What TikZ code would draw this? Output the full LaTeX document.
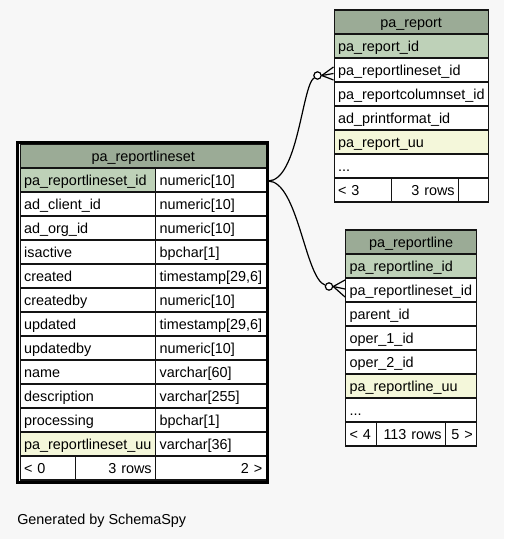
\documentclass[tikz,border=0pt]{standalone}
\usepackage{fontspec}
\setmainfont{Liberation Sans}
\definecolor{bgc}{HTML}{F7F7F7}
\definecolor{headc}{HTML}{9BAB96}
\definecolor{pkc}{HTML}{BED1B8}
\definecolor{uuc}{HTML}{F4F7DA}
\definecolor{linec}{HTML}{141414}
\newcommand\dbcell[7]{%
  \pgfmathsetmacro\dbcellw{(#3-#2)*0.75-6}%
  \node[cell, fill=#5, align=#6, text width=\dbcellw pt] (#1) at (#2,#4) {#7};%
}
\begin{document}
\begin{tikzpicture}[x=0.75pt, y=-0.75pt,
  cell/.style={draw=linec, line width=1pt, rectangle, inner xsep=3pt, inner ysep=0pt,
    minimum height=18pt, text height=7.7pt, text depth=0pt, anchor=west,
    font=\fontsize{10.8}{12}\selectfont},
  rel/.style={draw=black, line width=0.9pt},
  endc/.style={circle, draw=black, fill=white, line width=0.9pt, inner sep=0pt, minimum size=5.5pt}]
\fill[bgc] (0,0) rectangle (504,539);
\useasboundingbox (0,0) rectangle (504,539);

% ---------- pa_report ----------
\dbcell{rt}{333.5}{487.5}{22}{headc}{center}{pa\_report}
\dbcell{rp1}{333.5}{487.5}{46}{pkc}{left}{pa\_report\_id}
\dbcell{rp2}{333.5}{487.5}{70}{white}{left}{pa\_reportlineset\_id}
\dbcell{rp3}{333.5}{487.5}{94}{white}{left}{pa\_reportcolumnset\_id}
\dbcell{rp4}{333.5}{487.5}{118}{white}{left}{ad\_printformat\_id}
\dbcell{rp5}{333.5}{487.5}{142}{uuc}{left}{pa\_report\_uu}
\dbcell{rp6}{333.5}{487.5}{166}{white}{left}{...}
\dbcell{rf1}{333.5}{391}{190}{white}{left}{< 3}
\dbcell{rf2}{391}{458}{190}{white}{right}{3 rows\hspace*{1.5pt}}
\dbcell{rf3}{458}{487.5}{190}{white}{left}{}

% ---------- pa_reportline ----------
\dbcell{lt}{345}{476}{242}{headc}{center}{pa\_reportline}
\dbcell{lp1}{345}{476}{266}{pkc}{left}{pa\_reportline\_id}
\dbcell{lp2}{345}{476}{290}{white}{left}{pa\_reportlineset\_id}
\dbcell{lp3}{345}{476}{314}{white}{left}{parent\_id}
\dbcell{lp4}{345}{476}{338}{white}{left}{oper\_1\_id}
\dbcell{lp5}{345}{476}{362}{white}{left}{oper\_2\_id}
\dbcell{lp6}{345}{476}{386}{uuc}{left}{pa\_reportline\_uu}
\dbcell{lp7}{345}{476}{410}{white}{left}{...}
\dbcell{lf1}{345}{376}{434}{white}{left}{< 4}
\dbcell{lf2}{376}{445}{434}{white}{right}{113 rows\hspace*{1.5pt}}
\dbcell{lf3}{445}{476}{434}{white}{right}{5 >}

% ---------- pa_reportlineset (focused) ----------
\dbcell{st}{19.5}{265.5}{156}{headc}{center}{pa\_reportlineset}
\dbcell{s1a}{19.5}{155}{180}{pkc}{left}{pa\_reportlineset\_id}
\dbcell{s1b}{155}{265.5}{180}{white}{left}{numeric[10]}
\dbcell{s2a}{19.5}{155}{204}{white}{left}{ad\_client\_id}
\dbcell{s2b}{155}{265.5}{204}{white}{left}{numeric[10]}
\dbcell{s3a}{19.5}{155}{228}{white}{left}{ad\_org\_id}
\dbcell{s3b}{155}{265.5}{228}{white}{left}{numeric[10]}
\dbcell{s4a}{19.5}{155}{252}{white}{left}{isactive}
\dbcell{s4b}{155}{265.5}{252}{white}{left}{bpchar[1]}
\dbcell{s5a}{19.5}{155}{276}{white}{left}{created}
\dbcell{s5b}{155}{265.5}{276}{white}{left}{timestamp[29,6]}
\dbcell{s6a}{19.5}{155}{300}{white}{left}{createdby}
\dbcell{s6b}{155}{265.5}{300}{white}{left}{numeric[10]}
\dbcell{s7a}{19.5}{155}{324}{white}{left}{updated}
\dbcell{s7b}{155}{265.5}{324}{white}{left}{timestamp[29,6]}
\dbcell{s8a}{19.5}{155}{348}{white}{left}{updatedby}
\dbcell{s8b}{155}{265.5}{348}{white}{left}{numeric[10]}
\dbcell{s9a}{19.5}{155}{372}{white}{left}{name}
\dbcell{s9b}{155}{265.5}{372}{white}{left}{varchar[60]}
\dbcell{s10a}{19.5}{155}{396}{white}{left}{description}
\dbcell{s10b}{155}{265.5}{396}{white}{left}{varchar[255]}
\dbcell{s11a}{19.5}{155}{420}{white}{left}{processing}
\dbcell{s11b}{155}{265.5}{420}{white}{left}{bpchar[1]}
\dbcell{s12a}{19.5}{155}{444}{uuc}{left}{pa\_reportlineset\_uu}
\dbcell{s12b}{155}{265.5}{444}{white}{left}{varchar[36]}
\dbcell{sf1}{19.5}{75}{468}{white}{left}{< 0}
\dbcell{sf2}{75}{155}{468}{white}{right}{3 rows\hspace*{1.5pt}}
\dbcell{sf3}{155}{265.5}{468}{white}{right}{2 >}
\draw[black, line width=2.25pt] (17.5,142) rectangle (267.5,482);

% ---------- relationships ----------
\coordinate (src) at (268,181);
\node[endc] (c1) at (317.5,75.5) {};
\node[endc] (c2) at (329,286.5) {};
\draw[rel] (src) .. controls (298,181) and (302,86) .. (c1);
\draw[rel] (src) .. controls (298,181) and (305,278) .. (c2);
\draw[rel] (c1.east) -- ([yshift=2.25pt]rp2.west);
\draw[rel] (c1.east) -- ([yshift=-2.625pt]rp2.west);
\draw[rel] (c1.east) -- ([yshift=-7.5pt]rp2.west);
\draw[rel] (c2.east) -- ([yshift=7.5pt]lp2.west);
\draw[rel] (c2.east) -- ([yshift=0.75pt]lp2.west);
\draw[rel] (c2.east) -- ([yshift=-5.25pt]lp2.west);

\node[anchor=base west, inner sep=0pt, font=\fontsize{10.8}{12}\selectfont] (gen) at (17,524.3) {Generated by SchemaSpy};
\end{tikzpicture}
\end{document}
